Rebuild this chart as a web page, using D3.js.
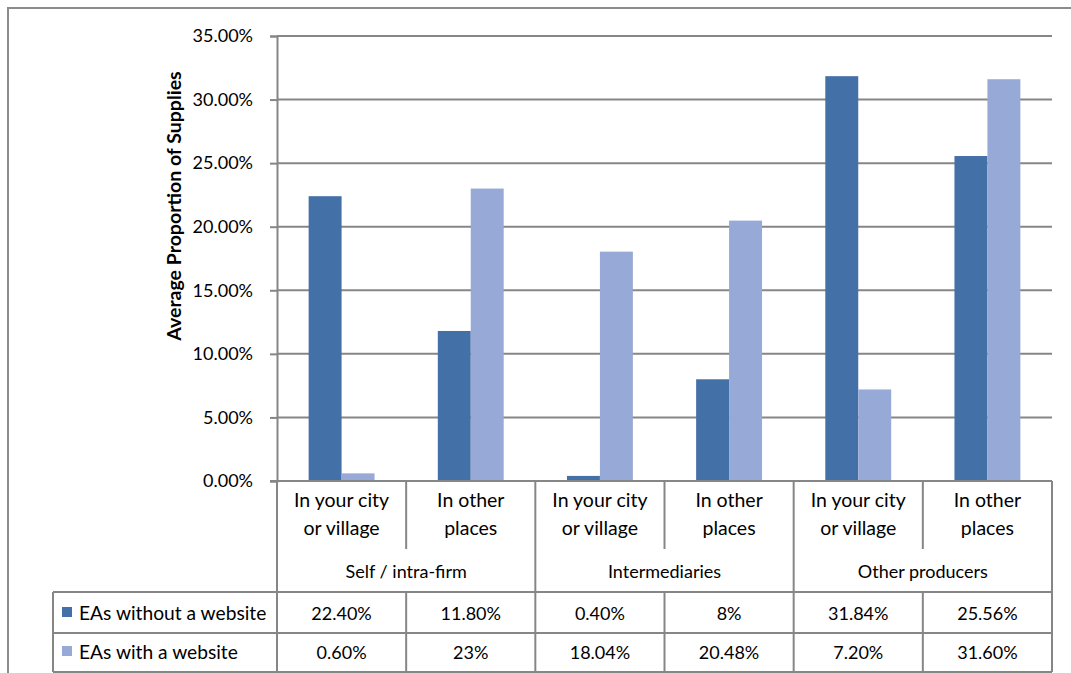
<!DOCTYPE html>
<html><head><meta charset="utf-8">
<script src="https://cdn.jsdelivr.net/npm/d3@7"></script>
<style>
html,body{margin:0;padding:0;background:#fff;}
svg{display:block;font-family:Lato,"Open Sans",sans-serif;}
</style></head>
<body><svg id="c" width="1071" height="673"></svg>
<script>
const subCategories = ["In your city|or village","In other|places","In your city|or village","In other|places","In your city|or village","In other|places"];
const groups = ["Self / intra-firm","Intermediaries","Other producers"];
const seriesNames = ["EAs without a website","EAs with a website"];
const withoutWebsite = [0.2240,0.1180,0.0040,0.08,0.3184,0.2556];
const withWebsite = [0.0060,0.23,0.1804,0.2048,0.0720,0.3160];
const withoutLabels = ["22.40%","11.80%","0.40%","8%","31.84%","25.56%"];
const withLabels = ["0.60%","23%","18.04%","20.48%","7.20%","31.60%"];
const yTicks = [0,0.05,0.10,0.15,0.20,0.25,0.30,0.35];
const colors = ["#4470a8","#96a9d7"];
const yTitle = "Average Proportion of Supplies";

const svg = d3.select("#c");
const L=277, R=1052, T=36, B=481;
const gridC="#868686";

const x0 = d3.scaleBand().domain(d3.range(subCategories.length)).range([L,R]).padding(0);
const x1 = d3.scaleBand().domain([0,1]).range([0,x0.bandwidth()]).paddingInner(0).paddingOuter(0.96);
const y = d3.scaleLinear().domain([0,0.35]).range([B,T]);

svg.append("path").attr("d",`M8,673 V8 H1071`).attr("fill","none").attr("stroke","#8c8c8c").attr("stroke-width",2);

svg.append("g").selectAll("line").data(yTicks).join("line")
  .attr("x1",L).attr("x2",R).attr("y1",d=>y(d)).attr("y2",d=>y(d))
  .attr("stroke",gridC).attr("stroke-width",2);

const yAxis = d3.axisLeft(y).tickValues(yTicks).tickSize(7).tickPadding(17)
  .tickFormat(d=>(d*100).toFixed(2)+"%");
const ga = svg.append("g").attr("transform",`translate(${L},0)`).call(yAxis);
ga.select(".domain").attr("stroke",gridC).attr("stroke-width",2);
ga.selectAll(".tick line").attr("stroke",gridC).attr("stroke-width",2);
ga.selectAll(".tick text").attr("font-size",18).attr("fill","#000").attr("font-family","Lato");

svg.append("text").attr("transform",`translate(181,206) rotate(-90)`)
  .attr("text-anchor","middle").attr("font-size",19.5).attr("font-weight","bold").text(yTitle);

const series = [withoutWebsite, withWebsite];
series.forEach((vals,si)=>{
  svg.append("g").selectAll("rect").data(vals).join("rect")
    .attr("x",(d,i)=>x0(i)+x1(si)).attr("width",x1.bandwidth())
    .attr("y",d=>y(d)).attr("height",d=>y(0)-y(d))
    .attr("fill",colors[si]);
});

svg.append("line").attr("x1",L-7).attr("x2",R).attr("y1",B).attr("y2",B).attr("stroke",gridC).attr("stroke-width",2);

const tbl = svg.append("g");
const rowCat=[B,549], rowGrp=[549,592], row1=[592,633], row2=[633,672];
subCategories.forEach((c,i)=>{
  const xx = x0(i);
  const full = (i%2===0);
  tbl.append("line").attr("x1",xx).attr("x2",xx).attr("y1",B).attr("y2",full?row2[1]:rowCat[1])
    .attr("stroke",gridC).attr("stroke-width",2);
});
tbl.append("line").attr("x1",R).attr("x2",R).attr("y1",B).attr("y2",row2[1]).attr("stroke",gridC).attr("stroke-width",2);
subCategories.forEach((c,i)=>{
  if(i%2===1){const xx=x0(i);
  tbl.append("line").attr("x1",xx).attr("x2",xx).attr("y1",row1[0]).attr("y2",row2[1]).attr("stroke",gridC).attr("stroke-width",2);}
});
[row1[0],row2[0],row2[1]].forEach(yy=>{
  tbl.append("line").attr("x1",53).attr("x2",R).attr("y1",yy).attr("y2",yy).attr("stroke",gridC).attr("stroke-width",2);
});
tbl.append("line").attr("x1",53).attr("x2",53).attr("y1",row1[0]).attr("y2",row2[1]).attr("stroke",gridC).attr("stroke-width",2);

subCategories.forEach((c,i)=>{
  const parts=c.split("|");
  const cx=x0(i)+x0.bandwidth()/2;
  parts.forEach((p,k)=>{
    tbl.append("text").attr("x",cx).attr("y",507+k*28).attr("text-anchor","middle").attr("font-size",19.5).text(p);
  });
});
groups.forEach((g,gi)=>{
  const cx=x0(gi*2)+x0.bandwidth();
  tbl.append("text").attr("x",cx).attr("y",578).attr("text-anchor","middle").attr("font-size",18).text(g);
});
[withoutLabels,withLabels].forEach((labs,si)=>{
  const yy = si===0?620:659;
  labs.forEach((l,i)=>{
    tbl.append("text").attr("x",x0(i)+x0.bandwidth()/2).attr("y",yy).attr("text-anchor","middle").attr("font-size",18).text(l);
  });
  tbl.append("rect").attr("x",62).attr("y",yy-13).attr("width",10).attr("height",10).attr("fill",colors[si]);
  tbl.append("text").attr("x",79).attr("y",yy).attr("font-size",19.2).text(seriesNames[si]);
});
</script></body></html>
